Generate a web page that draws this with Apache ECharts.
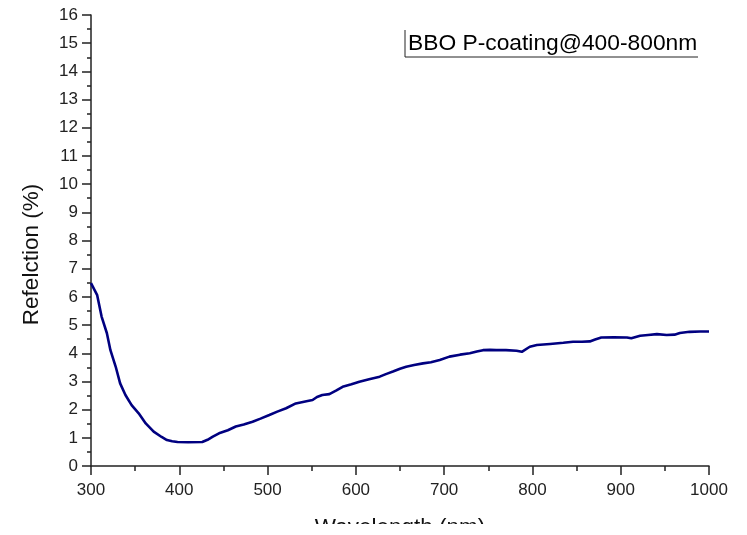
<!DOCTYPE html>
<html>
<head>
<meta charset="utf-8">
<script src="https://cdn.jsdelivr.net/npm/echarts@6/dist/echarts.min.js"></script>
<style>
  html, body { margin: 0; padding: 0; background: #fff; }
  #chart { width: 747px; height: 524px; }
</style>
</head>
<body>
<div id="chart"></div>
<script>
const wavelength = [300, 307, 312, 318, 322, 328, 333, 339, 346, 354, 362, 371, 380, 386, 392, 398, 410, 426, 432, 438, 445, 455, 464, 473, 483, 492, 502, 511, 521, 532, 544, 551, 556, 562, 570, 578, 585, 595, 604, 615, 627, 634, 642, 650, 657, 666, 676, 685, 695, 706, 718, 729, 737, 744, 752, 759, 770, 782, 788, 797, 805, 820, 835, 846, 856, 865, 871, 878, 892, 907, 912, 922, 931, 941, 952, 961, 967, 978, 990, 1000];
const reflection = [6.49, 6.06, 5.30, 4.71, 4.11, 3.52, 2.93, 2.52, 2.16, 1.87, 1.51, 1.22, 1.03, 0.92, 0.88, 0.85, 0.84, 0.85, 0.93, 1.04, 1.16, 1.27, 1.40, 1.47, 1.57, 1.68, 1.81, 1.93, 2.05, 2.22, 2.30, 2.34, 2.45, 2.52, 2.55, 2.68, 2.81, 2.90, 2.99, 3.08, 3.17, 3.26, 3.35, 3.45, 3.52, 3.58, 3.64, 3.68, 3.76, 3.88, 3.95, 4.00, 4.06, 4.11, 4.12, 4.11, 4.11, 4.09, 4.05, 4.23, 4.29, 4.33, 4.37, 4.41, 4.41, 4.42, 4.49, 4.56, 4.57, 4.56, 4.53, 4.62, 4.65, 4.68, 4.65, 4.66, 4.72, 4.76, 4.77, 4.77];
const seriesName = 'BBO P-coating@400-800nm';
const xName = 'Wavelength (nm)';
const yName = 'Refelction (%)';

const font = '"Liberation Sans", Arial, sans-serif';
const chart = echarts.init(document.getElementById('chart'), null, { renderer: 'canvas' });
const points = wavelength.map((w, i) => [w, reflection[i]]);

chart.setOption({
  animation: false,
  backgroundColor: '#fff',
  grid: { left: 91, right: 38, top: 15, bottom: 58, containLabel: false, outerBoundsMode: 'none' },
  xAxis: {
    type: 'value', min: 300, max: 1000, interval: 100,
    name: xName, nameLocation: 'middle', nameGap: 50,
    nameTextStyle: { fontFamily: font, fontSize: 22.5, color: '#111' },
    axisLine: { show: true, onZero: false, lineStyle: { color: '#222', width: 1.5 } },
    axisTick: { show: true, inside: false, length: 9, lineStyle: { color: '#222', width: 1.5 } },
    minorTick: { show: true, splitNumber: 2, length: 5, lineStyle: { color: '#222', width: 1.5 } },
    axisLabel: { fontFamily: font, fontSize: 17, color: '#222', margin: 16, formatter: v => String(v) },
    splitLine: { show: false }
  },
  yAxis: {
    type: 'value', min: 0, max: 16, interval: 1,
    name: yName, nameLocation: 'middle', nameGap: 48, nameRotate: 90,
    nameTextStyle: { fontFamily: font, fontSize: 22.5, color: '#111', padding: [0, 28, 0, 0] },
    axisLine: { show: true, onZero: false, lineStyle: { color: '#222', width: 1.5 } },
    axisTick: { show: true, inside: false, length: 9, lineStyle: { color: '#222', width: 1.5 } },
    minorTick: { show: true, splitNumber: 2, length: 4, lineStyle: { color: '#222', width: 1.5 } },
    axisLabel: { fontFamily: font, fontSize: 17, color: '#222', margin: 13, formatter: v => String(v) },
    splitLine: { show: false }
  },
  graphic: [
    { type: 'line', shape: { x1: 405, y1: 30, x2: 405, y2: 57 }, style: { stroke: '#222', lineWidth: 1 } },
    { type: 'line', shape: { x1: 405, y1: 57, x2: 698, y2: 57 }, style: { stroke: '#222', lineWidth: 1 } },
    { type: 'text', left: 408, top: 32, style: { text: seriesName, font: '22.8px ' + font, fill: '#000' } }
  ],
  series: [{
    name: seriesName, type: 'line', data: points, showSymbol: false,
    lineStyle: { color: '#000080', width: 2.6 }, itemStyle: { color: '#000080' }
  }]
});
</script>
</body>
</html>
